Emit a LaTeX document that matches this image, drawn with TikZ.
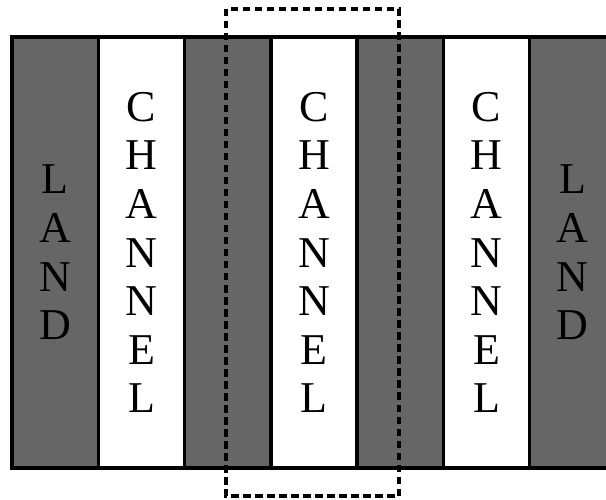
\documentclass[tikz,border=0pt]{standalone}
\usepackage{fontspec}
\setmainfont{Liberation Serif}
\begin{document}
\begin{tikzpicture}[x=1pt,y=-1pt,
  strip/.style={draw=black,line width=3.4pt,minimum width=86.3pt,minimum height=431pt,inner sep=0pt,
    align=center,font=\fontsize{44}{48.6}\selectfont},
  land/.style={strip,fill=black!60},
  chan/.style={strip,fill=white},
  frame/.style={draw=black,line width=3.6pt,dash pattern=on 7.5pt off 4.5pt}]
\useasboundingbox (0,0) rectangle (606,500);
\clip (0,0) rectangle (606,500);
\node[land] (l1) at (55.15,252.5) {L\\A\\N\\D};
\node[chan] (c1) at (141.45,252.5) {C\\H\\A\\N\\N\\E\\L};
\node[land] (l2) at (227.75,252.5) {};
\node[chan] (c2) at (314.0,252.5) {C\\H\\A\\N\\N\\E\\L};
\node[land] (l3) at (400.25,252.5) {};
\node[chan] (c3) at (486.55,252.5) {C\\H\\A\\N\\N\\E\\L};
\node[land] (l4) at (572.85,252.5) {L\\A\\N\\D};
\coordinate (d1) at (226,9);
\coordinate (d2) at (399,496);
\draw[frame] (d1) rectangle (d2);
\end{tikzpicture}
\end{document}
